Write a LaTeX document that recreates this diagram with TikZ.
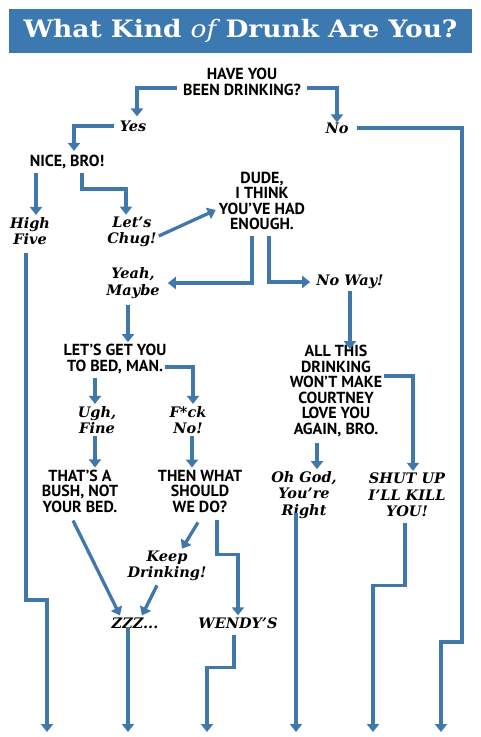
\documentclass[tikz,border=0pt]{standalone}
\usepackage{fontspec}
\usepackage{tikz}
\usetikzlibrary{arrows.meta}
\newfontfamily\capsfont{PT Sans}
\newfontfamily\pickfont{DejaVu Serif}
\newfontfamily\headfont{DejaVu Serif}
\definecolor{BarBlue}{RGB}{60,121,176}
\definecolor{LineBlue}{RGB}{64,120,172}
\tikzset{
  caps/.style={font=\capsfont\bfseries\fontsize{16}{15.5}\selectfont,
    align=center,inner sep=2pt},
  pick/.style={font=\pickfont\bfseries\itshape\fontsize{14.5}{16.5}\selectfont,
    align=center,inner sep=2pt},
  link/.style={line width=3.3pt,LineBlue},
  arrow/.style={link,-{Triangle[width=12pt,length=8pt]}}
}

\begin{document}
\begin{tikzpicture}[x=1pt,y=-1pt]
  \useasboundingbox (0,0) rectangle (480,737);
  \fill[BarBlue] (9,9) rectangle (472,53);
  \node[font=\headfont\bfseries\fontsize{24}{26}\selectfont,text=white,xscale=1.1] (title) at (240.5,31)
    {What Kind {\itshape\mdseries of} Drunk Are You?};

  \node[caps] (have) at (242,82) {HAVE YOU\\BEEN DRINKING?};
  \node[pick] (yes) at (133,126) {Yes};
  \node[pick] (no) at (337,128) {No};
  \node[caps] (nice) at (67,162) {NICE, BRO!};
  \node[pick] (high) at (30,231) {High\\Five};
  \node[pick] (chug) at (132,232) {Let’s\\Chug!};
  \node[caps] (dude) at (262,201) {DUDE,\\I THINK\\YOU’VE HAD\\ENOUGH.};
  \node[pick] (yeah) at (133,283) {Yeah,\\Maybe};
  \node[pick] (noway) at (350,282) {No Way!};
  \node[caps] (bed) at (115,359) {LET’S GET YOU\\TO BED, MAN.};
  \node[caps] (allthis) at (336,391) {ALL THIS\\DRINKING\\WON’T MAKE\\COURTNEY\\LOVE YOU\\AGAIN, BRO.};
  \node[pick] (ugh) at (97,420) {Ugh,\\Fine};
  \node[pick] (fck) at (188,420) {F*ck\\No!};
  \node[caps] (bush) at (80,491) {THAT’S A\\BUSH, NOT\\YOUR BED.};
  \node[caps] (then) at (200,491) {THEN WHAT\\SHOULD\\WE DO?};
  \node[pick] (ohgod) at (304,495) {Oh God,\\You’re\\Right};
  \node[pick] (shut) at (407,495) {SHUT UP\\I’LL KILL\\YOU!};
  \node[pick] (keep) at (167,566) {Keep\\Drinking!};
  \node[pick] (zzz) at (135,623) {ZZZ...};
  \node[pick] (wendy) at (238,623) {WENDY’S};

  \coordinate (out1) at (47,732);
  \coordinate (out2) at (128,732);
  \coordinate (out3) at (207,732);
  \coordinate (out4) at (296,732);
  \coordinate (out5) at (373,732);
  \coordinate (out6) at (441,732);

  \draw[arrow] ([shift={(-4,6)}]have.west) -| ([shift={(4,-2)}]yes.north);
  \draw[arrow] ([shift={(4,6)}]have.east) -| ([yshift=-2]no.north);
  \draw[arrow] ([xshift=6]no.east) -| (462,642) -| (out6);
  \draw[arrow] ([xshift=-4]yes.west) -| ([shift={(7,-2)}]nice.north);
  \draw[arrow] ([shift={(-31,2)}]nice.south) -- ([xshift=-31]nice.south |- high.north);
  \draw[arrow] ([shift={(15,2)}]nice.south) -- ++(0,16) -| ([xshift=-6]chug.north);
  \draw[arrow] ([yshift=-4]chug.east) -- ([shift={(-1,9)}]dude.west);
  \draw[arrow] ([shift={(-10,4)}]dude.south) |- ([xshift=6]yeah.east);
  \draw[arrow] ([shift={(7,4)}]dude.south) |- ([xshift=-4]noway.west);
  \draw[arrow] (noway.south) -- ([yshift=-6]noway.south |- allthis.north);
  \draw[arrow] ([yshift=15]allthis.east) -| ([xshift=6]shut.north);
  \draw[arrow] ([shift={(-19,4)}]allthis.south) -- ([xshift=-19]allthis.south |- ohgod.north);
  \draw[arrow] ([shift={(-5,4)}]yeah.south) -- ([xshift=-5]yeah.south |- bed.north);
  \draw[arrow] ([shift={(-20,2)}]bed.south) -- ([xshift=-20]bed.south |- ugh.north);
  \draw[arrow] ([shift={(-4,8)}]bed.east) -| ([xshift=5]fck.north);
  \draw[arrow] ([xshift=-2]ugh.south) -- ([xshift=-2]ugh.south |- bush.north);
  \draw[arrow] ([xshift=4]fck.south) -- ([xshift=4]fck.south |- then.north);
  \draw[arrow] ([shift={(-7,6)}]bush.south) -- ([xshift=-15]zzz.north);
  \draw[arrow] ([shift={(-2,8)}]then.south) -- ([xshift=15]keep.north);
  \draw[arrow] ([shift={(-10,2)}]keep.south) -- ([xshift=7]zzz.north);
  \draw[arrow] ([shift={(17,6)}]then.south) -- ++(0,34) -| (wendy.north);
  \draw[arrow] ([yshift=4]zzz.south -| out2) -- (out2);
  \draw[arrow] ([shift={(-4,4)}]wendy.south) -- ++(0,33) -| (out3);
  \draw[arrow] ([yshift=8]ohgod.south -| out4) -- (out4);
  \draw[arrow] ([shift={(-2,4)}]shut.south) -- ++(0,62) -| (out5);
  \draw[arrow] ([shift={(-4,6)}]high.south) -- ++(0,347) -| (out1);
\end{tikzpicture}
\end{document}
